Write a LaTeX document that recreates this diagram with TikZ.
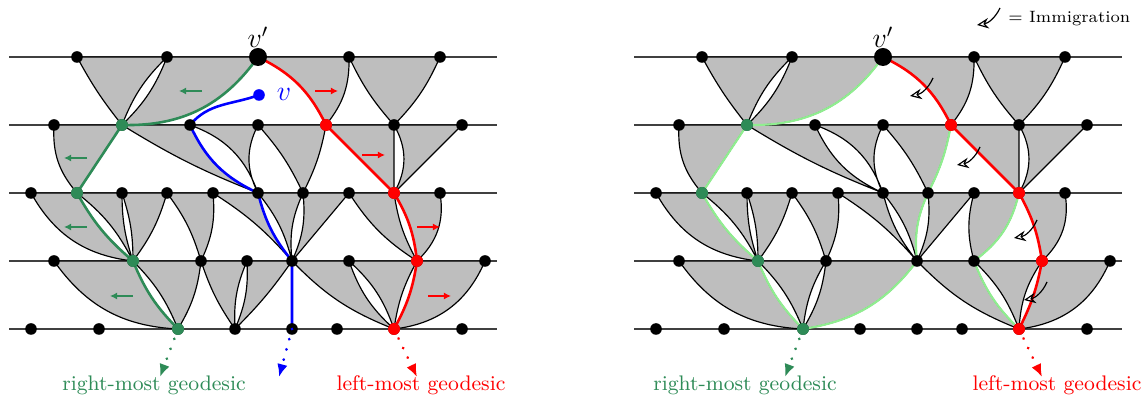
\documentclass[tikz,border=0pt]{standalone}
\usepackage{xcolor}
\usepackage{tikz}
\usetikzlibrary{arrows.meta,positioning}
\definecolor{GeoGreen}{RGB}{46,139,87}
\definecolor{GeoRed}{RGB}{255,0,0}
\definecolor{GeoBlue}{RGB}{0,0,255}
\definecolor{HaloGreen}{RGB}{144,238,144}
\definecolor{CellGray}{RGB}{190,190,190}
% one shaded cell: top corners #1,#2, apex #3, bends of the two sides (upper -> lower)
\newcommand{\fan}[5]{\filldraw[cell] (#1) -- (#2) to[bend left=#5] (#3) to[bend right=#4] (#1) -- cycle;}

\begin{document}
\begin{tikzpicture}[
  x=0.015cm, y=0.015cm,
  rowline/.style={draw=black!75,line width=0.5pt},
  cell/.style={fill=CellGray,draw=black,line width=0.5pt},
  geo/.style={line width=1.1pt},
  halo/.style={draw=HaloGreen,line width=0.9pt},
  tail/.style={line width=1.3pt,dash pattern=on 0.01pt off 4.5pt,line cap=round,-{Latex[length=5.5pt,width=4.5pt]}},
  drift/.style={line width=0.75pt,-{Latex[length=3pt,width=3pt]}},
  immig/.style={line width=0.5pt,-{Stealth[open,length=5pt,width=4.5pt]}},
  geolab/.style={font=\small,anchor=base}
]
\useasboundingbox (0,0) rectangle (1145,398);

% time lines
\foreach \y in {341,273,205,137,69} {
  \draw[rowline] (9,\y) -- (497,\y);
  \draw[rowline] (634,\y) -- (1122,\y);
}

% vertices of both panels
\foreach \p/\s in {L/0,R/625} {
  \foreach \x [count=\i] in {77,167,258,349,440} \coordinate (\p0-\i) at (\x+\s,341);
  \foreach \x [count=\i] in {54,122,190,258,326,394,462} \coordinate (\p1-\i) at (\x+\s,273);
  \foreach \x [count=\i] in {31,77,122,167,213,258,303,349,394,440} \coordinate (\p2-\i) at (\x+\s,205);
  \foreach \x [count=\i] in {31,99,178,235,292,337,394,462} \coordinate (\p4-\i) at (\x+\s,69);
}
\foreach \x [count=\i] in {54,133,201,247,292,349,417,485} \coordinate (L3-\i) at (\x,137);
\foreach \x [count=\i] in {54,133,201,292,349,417,485} \coordinate (R3-\i) at (\x+625,137);
\coordinate (vb) at (259,303);

% cells shared by both panels
\foreach \p in {L,R} {
  \fan{\p0-1}{\p0-2}{\p1-2}{-5}{-12}
  \fan{\p0-2}{\p0-3}{\p1-2}{12}{28}
  \fan{\p0-3}{\p0-4}{\p1-5}{19}{20}
  \fan{\p0-4}{\p0-5}{\p1-6}{-8}{10}
  \fan{\p1-1}{\p1-2}{\p2-2}{-22}{0}
  \fan{\p1-2}{\p1-3}{\p2-6}{-5}{-20}
  \fan{\p1-3}{\p1-4}{\p2-6}{25}{-27}
  \fan{\p1-4}{\p1-5}{\p2-7}{8}{8}
  \fan{\p1-5}{\p1-6}{\p2-9}{0}{0}
  \fan{\p1-6}{\p1-7}{\p2-9}{30}{0}
  \fan{\p2-1}{\p2-2}{\p3-2}{-27}{-10}
  \fan{\p2-2}{\p2-3}{\p3-2}{12}{-9}
  \fan{\p2-3}{\p2-4}{\p3-2}{9}{10}
  \fan{\p2-4}{\p2-5}{\p3-3}{10}{15}
}
% left panel, lower strips
\fan{L2-5}{L2-6}{L3-5}{8}{-12}
\fan{L2-6}{L2-7}{L3-5}{12}{-15}
\fan{L2-7}{L2-8}{L3-5}{15}{0}
\fan{L2-8}{L2-9}{L3-7}{-12}{-10}
\fan{L2-9}{L2-10}{L3-7}{12}{28}
\fan{L3-1}{L3-2}{L4-3}{-26}{-11}
\fan{L3-2}{L3-3}{L4-3}{11}{12}
\fan{L3-3}{L3-4}{L4-4}{-8}{-13}
\fan{L3-4}{L3-5}{L4-4}{13}{5}
\fan{L3-5}{L3-6}{L4-7}{-12}{-14}
\fan{L3-6}{L3-7}{L4-7}{14}{-10}
\fan{L3-7}{L3-8}{L4-7}{10}{30}
% right panel, lower strips
\fan{R2-5}{R2-6}{R3-4}{8}{-12}
\fan{R2-6}{R2-7}{R3-4}{12}{-15}
\fan{R2-7}{R2-8}{R3-4}{15}{0}
\fan{R2-8}{R2-9}{R3-5}{-15}{20}
\fan{R2-9}{R2-10}{R3-6}{10}{28}
\fan{R3-1}{R3-2}{R4-3}{-26}{-11}
\fan{R3-2}{R3-3}{R4-3}{11}{-12}
\fan{R3-3}{R3-4}{R4-3}{12}{22}
\fan{R3-4}{R3-5}{R4-7}{-12}{-12}
\fan{R3-5}{R3-6}{R4-7}{12}{-15}
\fan{R3-6}{R3-7}{R4-7}{8}{30}

% geodesics, left panel
\draw[geo,GeoBlue] (vb) to[out=-160,in=50] (L1-3) to[bend left=-20] (L2-6) to[bend left=-12] (L3-5) -- (L4-5);
\draw[geo,GeoGreen] (L0-3) to[bend left=28] (L1-2) to[bend left=0] (L2-2) to[bend left=-10] (L3-2) to[bend left=-11] (L4-3);
\draw[geo,GeoRed] (L0-3) to[bend left=19] (L1-5) to[bend left=0] (L2-9) to[bend left=12] (L3-7) to[bend left=10] (L4-7);
% geodesics, right panel
\draw[halo] (R0-3) to[bend left=28] (R1-2) to[bend left=0] (R2-2) to[bend left=-10] (R3-2) to[bend left=-11] (R4-3);
\draw[halo] (R1-5) to[bend left=8] (R2-7) to[bend left=-15] (R3-4) to[bend left=22] (R4-3);
\draw[halo] (R2-9) to[bend left=20] (R3-5) to[bend left=-12] (R4-7);
\draw[geo,GeoRed] (R0-3) to[bend left=19] (R1-5) to[bend left=0] (R2-9) to[bend left=10] (R3-6) to[bend left=8] (R4-7);

% dots
\foreach \p/\n in {L0/5,L1/7,L2/10,L3/8,L4/8,R0/5,R1/7,R2/10,R3/7,R4/8}
  \foreach \i in {1,...,\n} \fill (\p-\i) circle[radius=5.8];
\foreach \c in {L1-2,L2-2,L3-2,L4-3,R1-2,R2-2,R3-2,R4-3} \fill[GeoGreen] (\c) circle[radius=6];
\foreach \c in {L1-5,L2-9,L3-7,L4-7,R1-5,R2-9,R3-6,R4-7} \fill[GeoRed] (\c) circle[radius=6];
\fill (L0-3) circle[radius=9];
\fill (R0-3) circle[radius=9];
\fill[GeoBlue] (vb) circle[radius=5.8];

\node[font=\large] (vL) at (258,361) {$v'$};
\node[font=\large] (vR) at (883,361) {$v'$};
\node[font=\large,text=GeoBlue] (vlab) at (284,304) {$v$};

% drift arrows
\foreach \x/\y in {202/307,87/240,87/171,133/102} \draw[drift,GeoGreen] (\x,\y) -- ++(-23,0);
\foreach \x/\y in {315/307,362/243,417/171,428/102} \draw[drift,GeoRed] (\x,\y) -- ++(23,0);

% immigration
\foreach \x/\y in {933/320,980/251,1037/178,1047/116} \draw[immig] (\x,\y) to[bend left=28] ++(-23,-18);
\draw[immig] (1000,390) to[bend left=28] ++(-23,-17);
\node[font=\scriptsize,anchor=base west,inner sep=0pt] (immlab) at (1008,375) {$=$ Immigration};

% continuation below the last line
\coordinate (gL) at (160,21);
\coordinate (bL) at (279,21);
\coordinate (rL) at (417,21);
\coordinate (gR) at (785,21);
\coordinate (rR) at (1042,21);
\draw[tail,GeoGreen] (L4-3) -- (gL);
\draw[tail,GeoBlue] (L4-5) -- (bL);
\draw[tail,GeoRed] (L4-7) -- (rL);
\draw[tail,GeoGreen] (R4-3) -- (gR);
\draw[tail,GeoRed] (R4-7) -- (rR);
\node[geolab,text=GeoGreen] (gLlab) at (154,7) {right-most geodesic};
\node[geolab,text=GeoRed] (rLlab) at (421,7) {left-most geodesic};
\node[geolab,text=GeoGreen] (gRlab) at (745,7) {right-most geodesic};
\node[geolab,text=GeoRed] (rRlab) at (1057,7) {left-most geodesic};
\end{tikzpicture}
\end{document}
